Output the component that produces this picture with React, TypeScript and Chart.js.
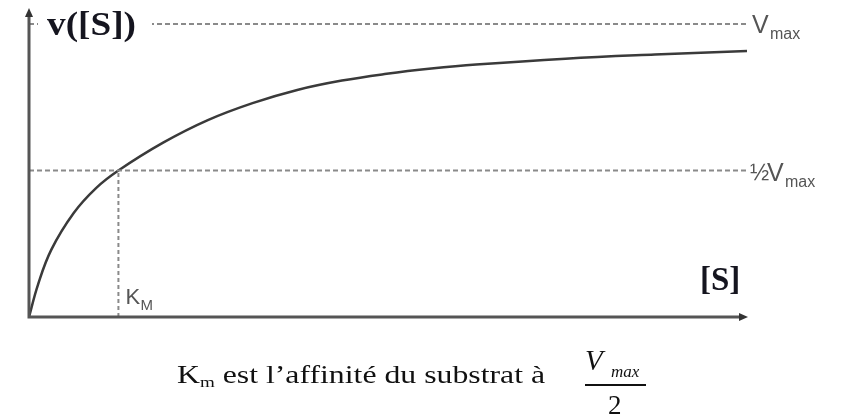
import React, { useEffect, useRef } from "react";
import { Chart, registerables } from "chart.js";

Chart.register(...registerables);

// Substrate concentration in units of Km, reaction rate in units of Vmax
const substrate = [0, 0.1, 0.25, 0.5, 0.75, 1, 1.5, 2, 2.5, 3, 3.5, 4, 4.5, 5, 6, 7, 8.03];
const velocity = [0, 0.11, 0.23, 0.355, 0.44, 0.5, 0.595, 0.672, 0.73, 0.775, 0.807, 0.83, 0.848, 0.862, 0.882, 0.896, 0.908];
const vmaxValue = 1;
const halfVmaxValue = 0.5;
const kmValue = 1;
const xMax = 8.03;
const yMax = 1.048;

const yAxisTitle = "v([S])";
const xAxisTitle = "[S]";
const vmaxLabel = ["V", "max"];
const halfVmaxLabel = ["½", "V", "max"];
const kmLabel = ["K", "M"];
const captionParts = ["K", "m", " est l\u2019affinité du substrat à"];
const fractionParts = ["V", "max", "2"];

const annotationPlugin = {
  id: "annotations",
  afterDatasetsDraw(chart: any) {
    const ctx = chart.ctx as CanvasRenderingContext2D;
    const xs = chart.scales.x;
    const ys = chart.scales.y;
    const x0 = xs.getPixelForValue(0);
    const y0 = ys.getPixelForValue(0);
    const xEnd = xs.getPixelForValue(xMax);
    const yTop = ys.getPixelForValue(yMax);
    const yV = ys.getPixelForValue(vmaxValue);
    const yH = ys.getPixelForValue(halfVmaxValue);
    const xK = xs.getPixelForValue(kmValue);
    ctx.save();

    // white box behind the y title
    ctx.fillStyle = "#ffffff";
    ctx.fillRect(x0 + 9, yV - 20, 114, 40);

    // axes
    ctx.strokeStyle = "#555555";
    ctx.lineWidth = 3;
    ctx.beginPath();
    ctx.moveTo(x0, y0 + 1.5);
    ctx.lineTo(x0, yTop + 4);
    ctx.moveTo(x0 - 1.5, y0);
    ctx.lineTo(xEnd - 4, y0);
    ctx.stroke();
    ctx.fillStyle = "#333333";
    ctx.beginPath();
    ctx.moveTo(x0, yTop - 2);
    ctx.lineTo(x0 - 4, yTop + 7);
    ctx.lineTo(x0 + 4, yTop + 7);
    ctx.closePath();
    ctx.fill();
    ctx.beginPath();
    ctx.moveTo(xEnd + 1, y0);
    ctx.lineTo(xEnd - 8, y0 - 4);
    ctx.lineTo(xEnd - 8, y0 + 4);
    ctx.closePath();
    ctx.fill();

    ctx.textBaseline = "alphabetic";
    ctx.textAlign = "left";

    // axis titles
    ctx.fillStyle = "#15151f";
    ctx.font = "bold 34px 'Liberation Serif'";
    {
      const w = ctx.measureText(yAxisTitle).width;
      const sx = 89 / w;
      ctx.save();
      ctx.translate(x0 + 18, yV + 11);
      ctx.scale(sx, 1);
      ctx.fillText(yAxisTitle, 0, 0);
      ctx.restore();
    }
    ctx.font = "bold 33px 'Liberation Serif'";
    ctx.fillText(xAxisTitle, 700, y0 - 27);

    // Vmax labels
    ctx.fillStyle = "#555555";
    ctx.font = "25px 'Liberation Sans'";
    ctx.fillText(vmaxLabel[0], xEnd + 5, yV + 9);
    ctx.font = "16px 'Liberation Sans'";
    ctx.fillText(vmaxLabel[1], xEnd + 23, yV + 15);

    ctx.font = "23px 'Liberation Sans'";
    ctx.fillText(halfVmaxLabel[0], xEnd + 3, yH + 9);
    ctx.font = "25px 'Liberation Sans'";
    ctx.fillText(halfVmaxLabel[1], xEnd + 20, yH + 10);
    ctx.font = "16px 'Liberation Sans'";
    ctx.fillText(halfVmaxLabel[2], xEnd + 38, yH + 16);

    // Km label
    ctx.font = "22px 'Liberation Sans'";
    ctx.fillText(kmLabel[0], xK + 7, y0 - 13);
    ctx.font = "15px 'Liberation Sans'";
    ctx.fillText(kmLabel[1], xK + 22, y0 - 7);

    // caption (scaled horizontally to the reference width)
    ctx.fillStyle = "#111111";
    const cy = 383;
    const big = "25px 'Liberation Serif'";
    const small = "15px 'Liberation Serif'";
    ctx.font = big;
    const w0 = ctx.measureText(captionParts[0]).width;
    const w2 = ctx.measureText(captionParts[2]).width;
    ctx.font = small;
    const w1 = ctx.measureText(captionParts[1]).width;
    const total = w0 + w1 + w2;
    const sx = 368 / total;
    ctx.save();
    ctx.translate(177, cy);
    ctx.scale(sx, 1);
    ctx.font = big;
    ctx.fillText(captionParts[0], 0, 0);
    ctx.font = small;
    ctx.fillText(captionParts[1], w0, 4);
    ctx.font = big;
    ctx.fillText(captionParts[2], w0 + w1, 0);
    ctx.restore();

    // fraction Vmax / 2
    ctx.font = "italic 29px 'Liberation Serif'";
    ctx.fillText(fractionParts[0], 585, 370);
    ctx.font = "italic 17px 'Liberation Serif'";
    ctx.fillText(fractionParts[1], 611, 377);
    ctx.fillRect(585, 384, 61, 2);
    ctx.font = "27px 'Liberation Serif'";
    ctx.fillText(fractionParts[2], 608, 414);

    ctx.restore();
  },
};

export default function App() {
  const canvasRef = useRef<HTMLCanvasElement | null>(null);

  useEffect(() => {
    const canvas = canvasRef.current;
    if (!canvas) return;
    const curve = substrate.map((s, i) => ({ x: s, y: velocity[i] }));
    const chart = new Chart(canvas, {
      type: "line",
      data: {
        datasets: [
          {
            label: "Vmax",
            data: [{ x: 0, y: vmaxValue }, { x: xMax, y: vmaxValue }],
            borderColor: "#8a8a8a",
            borderWidth: 2,
            borderDash: [5, 3],
            pointRadius: 0,
          },
          {
            label: "½Vmax",
            data: [{ x: 0, y: halfVmaxValue }, { x: xMax, y: halfVmaxValue }],
            borderColor: "#8a8a8a",
            borderWidth: 2,
            borderDash: [5, 3],
            pointRadius: 0,
          },
          {
            label: "Km",
            data: [{ x: kmValue, y: 0 }, { x: kmValue, y: halfVmaxValue }],
            borderColor: "#8a8a8a",
            borderWidth: 2,
            borderDash: [4, 3],
            pointRadius: 0,
          },
          {
            label: "v([S])",
            data: curve,
            borderColor: "#3a3a3a",
            borderWidth: 2.5,
            pointRadius: 0,
            tension: 0.4,
          },
        ],
      },
      options: {
        responsive: false,
        animation: false,
        layout: { padding: { left: 29, right: 94, top: 10, bottom: 98 } },
        plugins: { legend: { display: false }, tooltip: { enabled: false }, title: { display: false } },
        scales: {
          x: { type: "linear", min: 0, max: xMax, display: false },
          y: { type: "linear", min: 0, max: yMax, display: false },
        },
      },
      plugins: [annotationPlugin],
    });
    return () => chart.destroy();
  }, []);

  return (
    <div style={{ position: "absolute", left: 0, top: 0, width: 841, height: 415, background: "#ffffff" }}>
      <canvas ref={canvasRef} width={841} height={415} />
    </div>
  );
}
